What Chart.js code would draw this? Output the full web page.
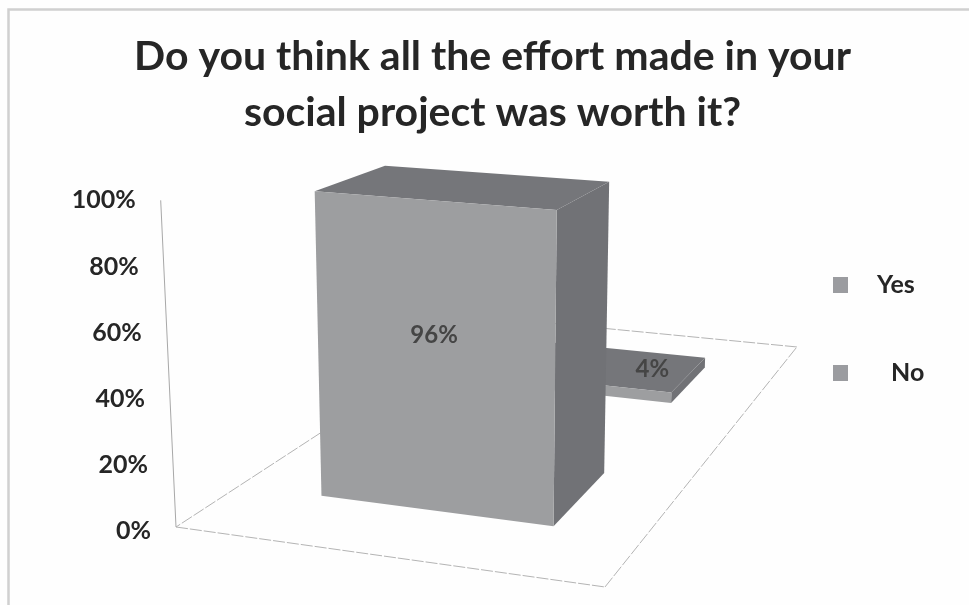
<!DOCTYPE html>
<html>
<head>
<meta charset="utf-8">
<title>Social project survey</title>
<script src="https://cdn.jsdelivr.net/npm/chart.js@4/dist/chart.umd.min.js"></script>
<style>
  html, body { margin: 0; padding: 0; background: #fff; }
  canvas { display: block; }
</style>
</head>
<body>
<canvas id="myChart" width="969" height="605"></canvas>
<script>
const categories = ['Response'];
const seriesNames = ['Yes', 'No'];
const yesValues = [96];
const noValues = [4];
const tickValues = [0, 20, 40, 60, 80, 100];
const titleLines = ['Do you think all the effort made in your', 'social project was worth it?'];

const fontName = 'Lato, sans-serif';
const textColor = '#262626';

// camera for the fake 3d box: floor corners, vanishing point of the verticals
const floor = { a: 385.6, b: 557.4, c: 176, d: 17.9, e: -57.7, f: 527, g: -0.0717, h: 0.4759 };
const vanish = { x: 481, y: 7650 };
const heightGain = 0.0448;

function project(s, t, w) {
    const k = heightGain * w;
    const X = floor.a * s + floor.b * t + floor.c - k * vanish.x;
    const Y = floor.d * s + floor.e * t + floor.f - k * vanish.y;
    const Z = floor.g * s + floor.h * t + 1 - k;
    return { x: X / Z, y: Y / Z };
}

function face(ctx, points, color) {
    ctx.fillStyle = color;
    ctx.beginPath();
    points.forEach((p, i) => i ? ctx.lineTo(p.x, p.y) : ctx.moveTo(p.x, p.y));
    ctx.closePath();
    ctx.fill();
}

function line(ctx, a, b) {
    ctx.beginPath();
    ctx.moveTo(a.x, a.y);
    ctx.lineTo(b.x, b.y);
    ctx.stroke();
}

// depth slots: each series gets its own row along the floor
const depthHalf = 0.095;
function depthOf(index) {
    return (index + 0.5) / seriesNames.length - 0.01;
}

const box3d = {
    id: 'box3d',
    beforeDraw(chart) {
        const ctx = chart.ctx;
        ctx.save();
        ctx.fillStyle = '#fefefe';
        ctx.fillRect(0, 0, chart.width, chart.height);
        ctx.strokeStyle = '#d0d0d0';
        ctx.lineWidth = 2.5;
        ctx.strokeRect(8.5, 9.5, chart.width + 20, chart.height + 20);
        ctx.restore();
    },
    beforeDatasetsDraw(chart) {
        const ctx = chart.ctx;
        const y = chart.scales.y;
        const c00 = project(0, 0, 0), c10 = project(1, 0, 0), c11 = project(1, 1, 0), c01 = project(0, 1, 0);
        ctx.save();
        ctx.strokeStyle = '#b4b4b4';
        ctx.lineWidth = 1;
        ctx.setLineDash([12, 2]);
        line(ctx, c00, c10);
        line(ctx, c10, c11);
        line(ctx, c11, c01);
        line(ctx, c01, c00);
        ctx.setLineDash([]);
        // value axis runs from the floor corner up to the top of the scale
        const axisTop = { x: project(0, 0, 1).x - 1, y: y.getPixelForValue(100) };
        ctx.strokeStyle = '#a8a8a8';
        line(ctx, c00, axisTop);
        // tick labels follow the slant of the axis
        ctx.fillStyle = textColor;
        ctx.font = 'bold 25px ' + fontName;
        ctx.textAlign = 'right';
        ctx.textBaseline = 'middle';
        y.ticks.forEach((tick, i) => {
            const py = y.getPixelForTick(i);
            const frac = (tick.value - y.min) / (y.max - y.min);
            ctx.fillText(tick.label, c00.x + (axisTop.x - c00.x) * frac - 25, py);
        });
        ctx.restore();
    },
    beforeDatasetDraw(chart, args) {
        const ctx = chart.ctx;
        const area = chart.chartArea;
        const yScale = chart.scales.y;
        const bar = chart.getDatasetMeta(args.index).data[0];
        const s0 = (bar.x - bar.width / 2 - area.left) / area.width;
        const s1 = (bar.x + bar.width / 2 - area.left) / area.width;
        const w = (yScale.bottom - bar.y) / (yScale.bottom - yScale.top);
        const t0 = depthOf(args.index) - depthHalf, t1 = depthOf(args.index) + depthHalf;
        ctx.save();
        face(ctx, [project(s1, t0, 0), project(s1, t1, 0), project(s1, t1, w), project(s1, t0, w)], '#717276');
        face(ctx, [project(s0, t0, w), project(s1, t0, w), project(s1, t1, w), project(s0, t1, w)], '#75767a');
        face(ctx, [project(s0, t0, 0), project(s1, t0, 0), project(s1, t0, w), project(s0, t0, w)], '#9d9ea0');
        ctx.restore();
        return false;
    },
    afterDatasetsDraw(chart) {
        const ctx = chart.ctx;
        const area = chart.chartArea;
        ctx.save();
        ctx.textBaseline = 'middle';
        // value labels: front face of the tall box, visible part of the lid on the flat one
        chart.data.datasets.forEach((ds, i) => {
            const bar = chart.getDatasetMeta(i).data[0];
            const w = ds.data[0] / 100;
            let p;
            if (i === 0) {
                p = project((bar.x - area.left) / area.width, depthOf(i) - depthHalf, w * 0.575);
            } else {
                p = project((bar.x + bar.width * 0.3 - area.left) / area.width, depthOf(i) + 0.01, w);
            }
            ctx.fillStyle = '#454545';
            ctx.font = 'bold 24px ' + fontName;
            ctx.textAlign = 'center';
            ctx.fillText(ds.data[0] + '%', p.x, p.y);
        });
        // legend, one entry per series
        const legendY = [285, 373];
        const legendX = [877, 891];
        chart.data.datasets.forEach((ds, i) => {
            ctx.fillStyle = '#9b9ca0';
            ctx.fillRect(833, legendY[i] - 8, 15, 16);
            ctx.fillStyle = textColor;
            ctx.font = 'bold 25px ' + fontName;
            ctx.textAlign = 'left';
            ctx.fillText(ds.label, legendX[i], legendY[i]);
        });
        ctx.restore();
    }
};

const data = {
    labels: categories,
    datasets: [
        { label: seriesNames[0], data: yesValues, backgroundColor: '#9d9ea0' },
        { label: seriesNames[1], data: noValues, backgroundColor: '#9d9ea0' }
    ]
};

const config = {
    type: 'bar',
    data,
    plugins: [box3d],
    options: {
        responsive: false,
        animation: false,
        layout: { padding: { left: 8, right: 0, top: 0, bottom: 74 } },
        datasets: { bar: { grouped: false, barPercentage: 0.575, categoryPercentage: 1 } },
        scales: {
            x: { display: false },
            y: {
                min: 0,
                max: 100,
                grid: { display: false },
                border: { display: false },
                ticks: {
                    display: false,
                    stepSize: 20,
                    callback: v => tickValues.includes(v) ? v + '%' : ''
                }
            }
        },
        plugins: {
            legend: { display: false },
            tooltip: { enabled: false },
            title: {
                display: true,
                text: titleLines,
                fullSize: false,
                color: textColor,
                font: { family: fontName, size: 41, weight: 'bold', lineHeight: 1.37 },
                padding: { top: 29, bottom: 59 }
            }
        }
    }
};

new Chart(document.getElementById('myChart'), config);
</script>
</body>
</html>
